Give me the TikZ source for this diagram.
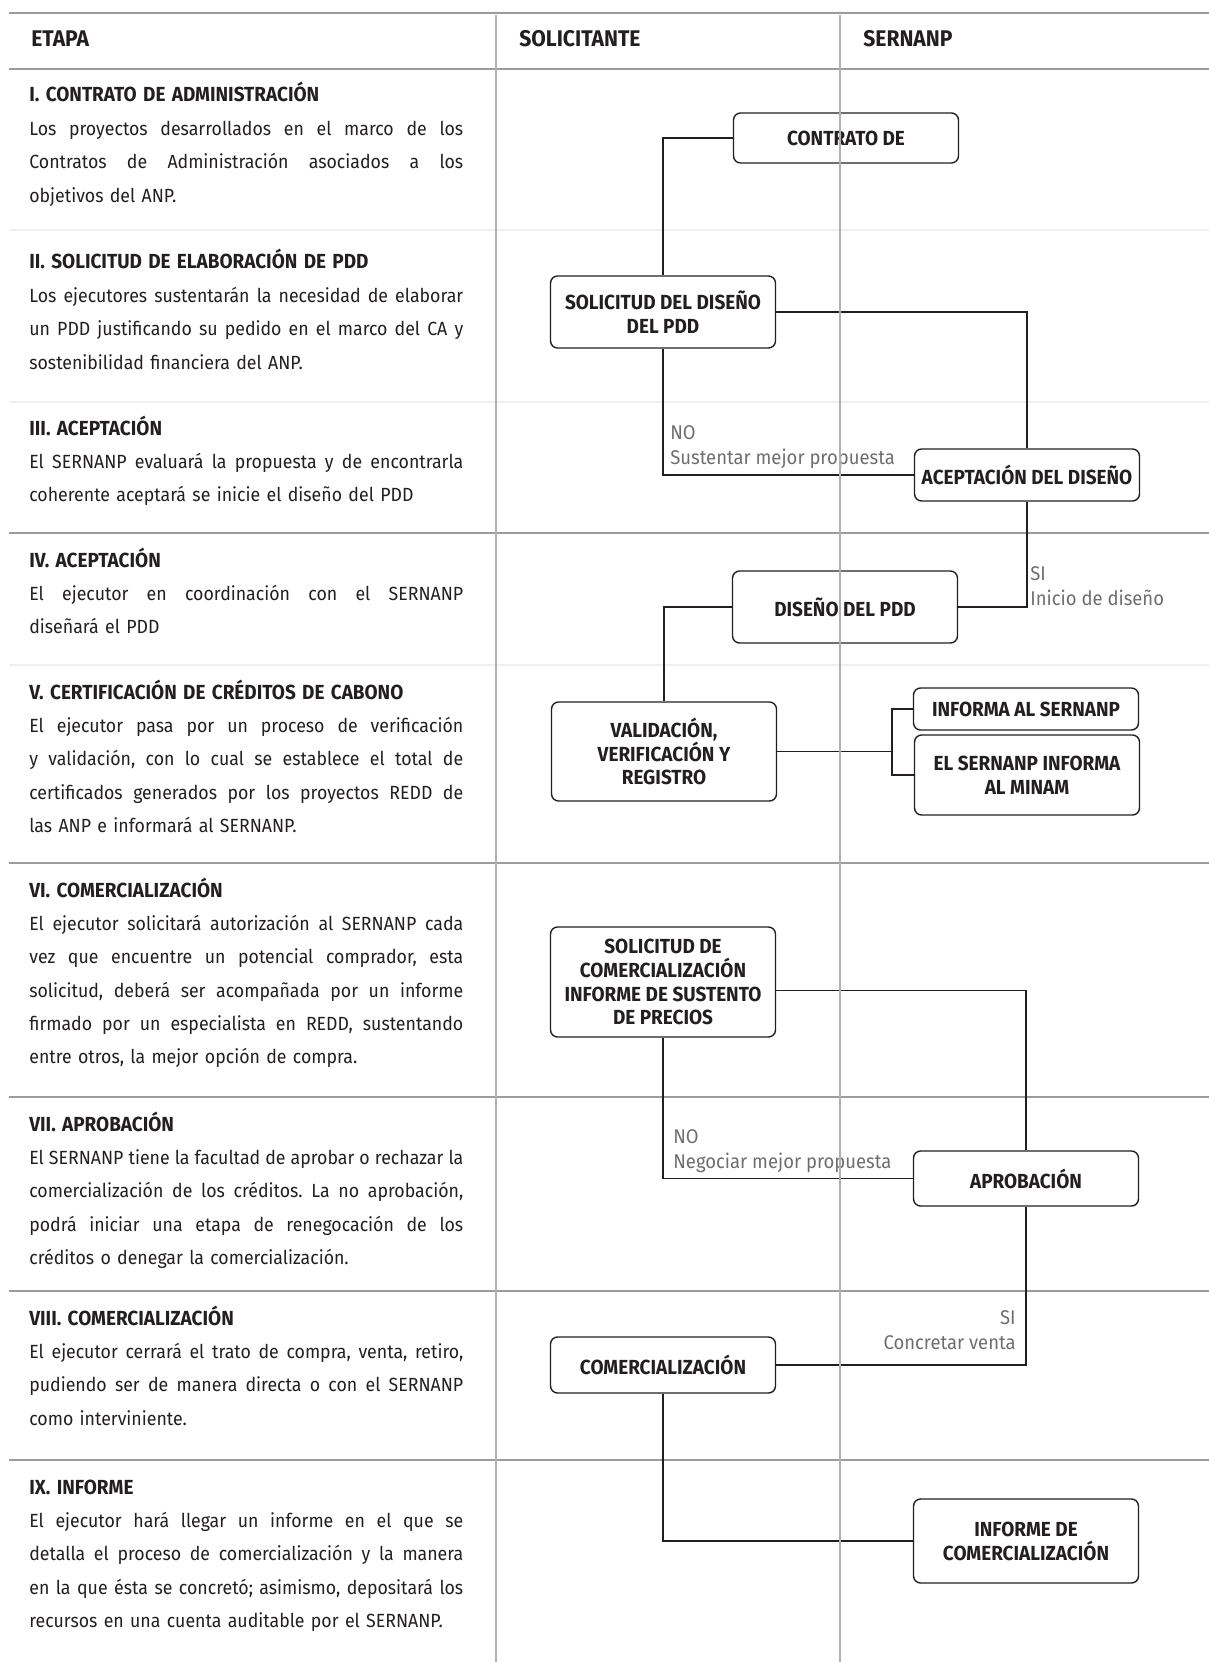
\documentclass[tikz,border=0pt]{standalone}
\usepackage{fontspec}
\setmainfont{Fira Sans}[FakeStretch=0.93]
\frenchspacing
\hyphenpenalty=10000
\exhyphenpenalty=10000

\definecolor{ink}{HTML}{231F20}
\definecolor{notegray}{HTML}{6E6E6E}
\definecolor{rulegray}{HTML}{9B9B9B}
\definecolor{lanegray}{HTML}{B0B0B0}
\definecolor{faintgray}{HTML}{EFEFEF}

% one justified line of the stage text
\newcommand\fullline[1]{\hbox to 8.68cm{\spaceskip=0.24em plus 0.5em minus 0.1em\relax #1}}
\newcommand\etapahead[1]{{\fontsize{11.6pt}{19pt}\selectfont\bfseries #1}\par}

\tikzstyle{proc}=[rectangle,rounded corners=4pt,draw=ink,line width=0.8pt,align=center,text=ink,font=\fontsize{11.6pt}{13.6pt}\selectfont\bfseries,minimum width=4.5cm,inner sep=0pt]
\tikzstyle{link}=[draw=ink,line width=0.7pt]
\tikzstyle{note}=[text=notegray,font=\fontsize{11.3pt}{14.2pt}\selectfont,inner sep=0pt]
\tikzstyle{etapa}=[anchor=base west,text width=8.68cm,align=left,inner sep=0pt,text=ink,font=\fontsize{10.85pt}{19pt}\selectfont]
\tikzstyle{head}=[anchor=base west,inner sep=0pt,text=ink,font=\fontsize{12.9pt}{16pt}\selectfont\bfseries]

\begin{document}
\begin{tikzpicture}[x=0.02cm,y=-0.02cm]
	\useasboundingbox (0,0) rectangle (1209,1662);

	% Rows
	\draw[rulegray,line width=1.7pt] (9,13) -- (1209,13);
	\draw[rulegray,line width=1.7pt] (9,69) -- (1209,69);
	\foreach \y in {533,863,1097,1291,1460}
		\draw[rulegray,line width=1.1pt] (9,\y) -- (1209,\y);
	\foreach \y in {230,402,665}
		\draw[faintgray,line width=0.6pt] (9,\y) -- (1209,\y);

	% Header
	\node[head] (etapa) at (31,47) {ETAPA};
	\node[head] (solicitante) at (519,47) {SOLICITANTE};
	\node[head] (sernanp) at (863,47) {SERNANP};

	% Etapas
	\node[etapa] (e1) at (29,102) {\etapahead{I. CONTRATO DE ADMINISTRACIÓN}
		\fullline{Los proyectos desarrollados en el marco de los}
		\fullline{Contratos de Administración asociados a los}
		objetivos del ANP.};
	\node[etapa] (e2) at (29,269) {\etapahead{II. SOLICITUD DE ELABORACIÓN DE PDD}
		\fullline{Los ejecutores sustentarán la necesidad de elaborar}
		\fullline{un PDD justificando su pedido en el marco del CA y}
		sostenibilidad financiera del ANP.};
	\node[etapa] (e3) at (29,435) {\etapahead{III. ACEPTACIÓN}
		\fullline{El SERNANP evaluará la propuesta y de encontrarla}
		coherente aceptará se inicie el diseño del PDD};
	\node[etapa] (e4) at (29,567) {\etapahead{IV. ACEPTACIÓN}
		\fullline{El ejecutor en coordinación con el SERNANP}
		diseñará el PDD};
	\node[etapa] (e5) at (29,699) {\etapahead{V. CERTIFICACIÓN DE CRÉDITOS DE CABONO}
		\fullline{El ejecutor pasa por un proceso de verificación}
		\fullline{y validación, con lo cual se establece el total de}
		\fullline{certificados generados por los proyectos REDD de}
		las ANP e informará al SERNANP.};
	\node[etapa] (e6) at (29,897) {\etapahead{VI. COMERCIALIZACIÓN}
		\fullline{El ejecutor solicitará autorización al SERNANP cada}
		\fullline{vez que encuentre un potencial comprador, esta}
		\fullline{solicitud, deberá ser acompañada por un informe}
		\fullline{firmado por un especialista en REDD, sustentando}
		entre otros, la mejor opción de compra.};
	\node[etapa] (e7) at (29,1131) {\etapahead{VII. APROBACIÓN}
		\fullline{El SERNANP tiene la facultad de aprobar o rechazar la}
		\fullline{comercialización de los créditos. La no aprobación,}
		\fullline{podrá iniciar una etapa de renegocación de los}
		créditos o denegar la comercialización.};
	\node[etapa] (e8) at (29,1325) {\etapahead{VIII. COMERCIALIZACIÓN}
		\fullline{El ejecutor cerrará el trato de compra, venta, retiro,}
		\fullline{pudiendo ser de manera directa o con el SERNANP}
		como interviniente.};
	\node[etapa] (e9) at (29,1494) {\etapahead{IX. INFORME}
		\fullline{El ejecutor hará llegar un informe en el que se}
		\fullline{detalla el proceso de comercialización y la manera}
		\fullline{en la que ésta se concretó; asimismo, depositará los}
		recursos en una cuenta auditable por el SERNANP.};

	% Boxes
	\node[proc,minimum height=1cm] (contrato) at (846,138) {CONTRATO DE};
	\node[proc,minimum height=1.44cm] (soldis) at (663,312) {SOLICITUD DEL DISEÑO\\DEL PDD};
	\node[proc,minimum height=1.04cm] (acep) at (1027,475) {ACEPTACIÓN DEL DISEÑO};
	\node[proc,minimum height=1.44cm] (diseno) at (845,607) {DISEÑO DEL PDD};
	\node[proc,minimum height=1.98cm] (valid) at (664,751.5) {VALIDACIÓN,\\VERIFICACIÓN Y\\REGISTRO};
	\node[proc,minimum height=0.84cm] (informa) at (1026,709) {INFORMA AL SERNANP};
	\node[proc,minimum height=1.6cm] (minam) at (1027,775) {EL SERNANP INFORMA\\AL MINAM};
	\node[proc,minimum height=2.2cm] (solcom) at (663,982) {SOLICITUD DE\\COMERCIALIZACIÓN\\INFORME DE SUSTENTO\\DE PRECIOS};
	\node[proc,minimum height=1.1cm] (aprob) at (1026,1178.5) {APROBACIÓN};
	\node[proc,minimum height=1.12cm] (comer) at (663,1365) {COMERCIALIZACIÓN};
	\node[proc,minimum height=1.68cm] (infcom) at (1026,1541) {INFORME DE\\COMERCIALIZACIÓN};

	% Links
	\draw[link] (contrato.west) -| (soldis.north);
	\draw[link] (soldis.east) -| (acep.north);
	\draw[link] (soldis.south) |- (acep.west);
	\draw[link] (acep.south) |- (diseno.east);
	\draw[link] (diseno.west) -| (valid.north);
	\coordinate (fork) at (892,751.5);
	\draw[link] (valid.east) -- (fork);
	\draw[link] (informa.west) -| (fork) |- (minam.west);
	\draw[link] ([yshift=-5pt]solcom.east) -| (aprob.north);
	\draw[link] (solcom.south) |- (aprob.west);
	\draw[link] (aprob.south) |- (comer.east);
	\draw[link] (comer.south) |- (infcom.west);

	% Labels (base = last line)
	\node[note,anchor=base west,align=left] (no1) at (670,464) {NO\\Sustentar mejor propuesta};
	\node[note,anchor=base west,align=left] (si1) at (1030,605) {SI\\Inicio de diseño};
	\node[note,anchor=base west,align=left] (no2) at (673,1168) {NO\\Negociar mejor propuesta};
	\node[note,anchor=base east,align=right] (si2) at (1016,1349) {SI\\Concretar venta};

	% Lanes
	\foreach \x in {496,840}
		\draw[lanegray,line width=1.1pt] (\x,15) -- (\x,1662);
\end{tikzpicture}
\end{document}
